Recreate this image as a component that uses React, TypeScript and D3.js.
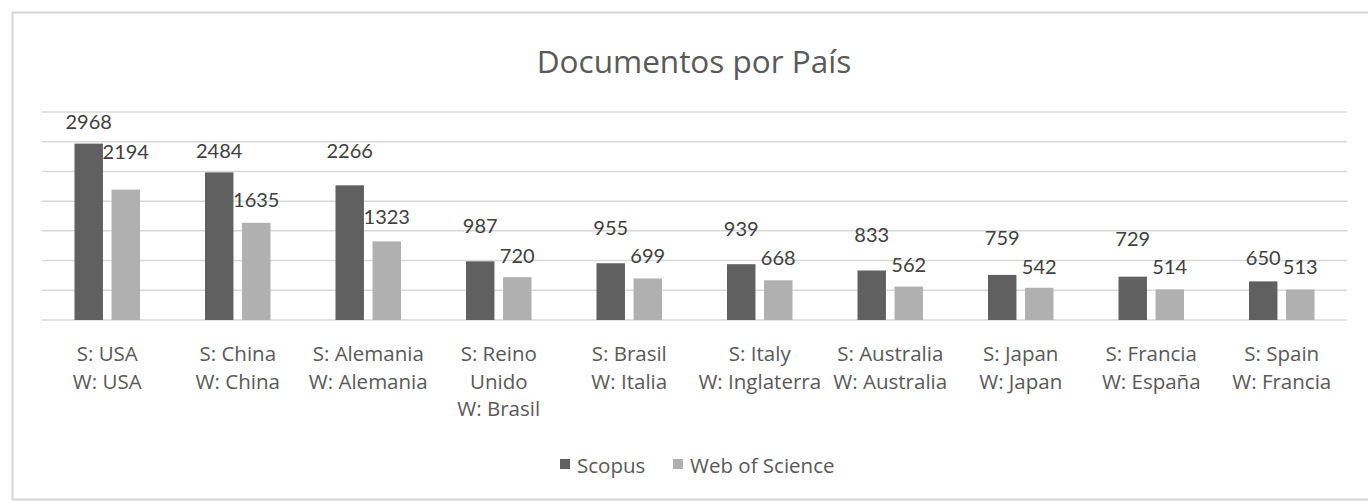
import React from "react";
import * as d3 from "d3";

const categories: string[][] = [
  ["S: USA", "W: USA"],
  ["S: China", "W: China"],
  ["S: Alemania", "W: Alemania"],
  ["S: Reino", "Unido", "W: Brasil"],
  ["S: Brasil", "W: Italia"],
  ["S: Italy", "W: Inglaterra"],
  ["S: Australia", "W: Australia"],
  ["S: Japan", "W: Japan"],
  ["S: Francia", "W: España"],
  ["S: Spain", "W: Francia"],
];
const scopus = [2968, 2484, 2266, 987, 955, 939, 833, 759, 729, 650];
const wos = [2194, 1635, 1323, 720, 699, 668, 562, 542, 514, 513];
const yTicks = [0, 500, 1000, 1500, 2000, 2500, 3000, 3500];
const seriesNames = ["Scopus", "Web of Science"];

// label nudges (px above bar top) as placed in the original
const scopusLabelLift = [15, 14, 27, 28, 28, 28, 28, 30, 31, 16];
const wosLabelLift = [31, 16, 17, 14, 15, 15, 15, 14, 15, 16];

const W = 1368;
const H = 502;
const FONT = "Lato, 'Noto Sans', sans-serif";
const TFONT = "'Open Sans', Lato, sans-serif";
const DARK = "#606060";
const LIGHT = "#b0b0b0";

export default function App() {
  const x = d3
    .scaleBand<number>()
    .domain(d3.range(categories.length))
    .range([42, 1347])
    .paddingInner(0)
    .paddingOuter(0);
  const y = d3.scaleLinear().domain([0, 3500]).range([320, 112]);
  const bw = x.bandwidth();
  const barW = bw * 0.218;
  const gap = bw * 0.066;
  const sx = (i: number) => (x(i) as number) + bw / 2 - gap / 2 - barW;
  const wx = (i: number) => (x(i) as number) + bw / 2 + gap / 2;

  return (
    <svg
      width={W}
      height={H}
      style={{ position: "absolute", left: 0, top: 0, background: "#fff" }}
      fontFamily={FONT}
    >
      <rect x={12.5} y={12.5} width={1370} height={487} fill="#fff" stroke="#d6d6d6" strokeWidth={2} />
      <text x={694} y={73} textAnchor="middle" fontSize={31.5} fill="#595959" fontFamily={TFONT}>
        Documentos por País
      </text>
      {yTicks.map((t) => (
        <line key={t} x1={42} x2={1347} y1={y(t)} y2={y(t)} stroke="#d9d9d9" strokeWidth={1.5} />
      ))}
      {scopus.map((v, i) => (
        <rect key={"s" + i} x={sx(i)} y={y(v)} width={barW} height={y(0) - y(v)} fill={DARK} />
      ))}
      {wos.map((v, i) => (
        <rect key={"w" + i} x={wx(i)} y={y(v)} width={barW} height={y(0) - y(v)} fill={LIGHT} />
      ))}
      {scopus.map((v, i) => (
        <text key={"sl" + i} x={sx(i) + barW / 2} y={y(v) - scopusLabelLift[i]} textAnchor="middle" fontSize={20} fill="#404040">
          {v}
        </text>
      ))}
      {wos.map((v, i) => (
        <text key={"wl" + i} x={wx(i) + barW / 2} y={y(v) - wosLabelLift[i]} textAnchor="middle" fontSize={20} fill="#404040">
          {v}
        </text>
      ))}
      {categories.map((lines, i) => (
        <text key={"c" + i} x={(x(i) as number) + bw / 2} textAnchor="middle" fontSize={20.5} fill="#595959" fontFamily={TFONT}>
          {lines.map((l, j) => (
            <tspan key={j} x={(x(i) as number) + bw / 2} y={361 + j * 27.5}>
              {l}
            </tspan>
          ))}
        </text>
      ))}
      <g fontFamily={TFONT}>
        <rect x={560} y={459} width={10} height={10} fill={DARK} />
        <text x={577} y={473} fontSize={20.5} fill="#595959">{seriesNames[0]}</text>
        <rect x={673} y={459} width={10} height={10} fill={LIGHT} />
        <text x={690} y={473} fontSize={20.5} fill="#595959">{seriesNames[1]}</text>
      </g>
    </svg>
  );
}
